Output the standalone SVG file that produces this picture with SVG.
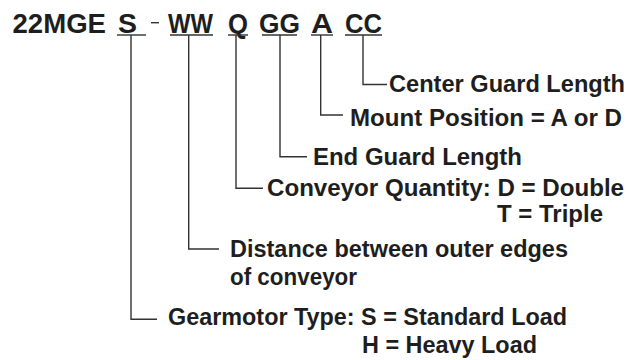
<svg xmlns="http://www.w3.org/2000/svg" width="634" height="360" viewBox="0 0 634 360">
<style>
.t{font-family:"Liberation Sans",Arial,sans-serif;font-weight:bold;font-size:23.5px;fill:#1e1e1e}
.h{font-family:"Liberation Sans",Arial,sans-serif;font-weight:bold;font-size:27.5px;fill:#1e1e1e}
.ln{fill:none;stroke:#333;stroke-width:1.4}
</style>
<rect width="634" height="360" fill="#fff"/>
<g id="title">
<text class="h" x="12.5" y="33.3" textLength="93.5" lengthAdjust="spacingAndGlyphs">22MGE</text>
<text class="h" x="118" y="33.3" textLength="19" lengthAdjust="spacingAndGlyphs">S</text>
<line class="ln" x1="151" y1="22.7" x2="159" y2="22.7" stroke-width="1.6"/>
<text class="h" x="168" y="33.3" textLength="45" lengthAdjust="spacingAndGlyphs">WW</text>
<text class="h" x="228" y="33.3" textLength="20" lengthAdjust="spacingAndGlyphs">Q</text>
<text class="h" x="259" y="33.3" textLength="41" lengthAdjust="spacingAndGlyphs">GG</text>
<text class="h" x="311" y="33.3" textLength="22" lengthAdjust="spacingAndGlyphs">A</text>
<text class="h" x="345" y="33.3" textLength="37" lengthAdjust="spacingAndGlyphs">CC</text>
</g>
<g id="connectors">
<line class="ln" x1="117" y1="35" x2="146" y2="35"/>
<line class="ln" x1="170" y1="35" x2="213" y2="35"/>
<line class="ln" x1="228" y1="35" x2="248" y2="35"/>
<line class="ln" x1="262" y1="35" x2="297" y2="35"/>
<line class="ln" x1="311" y1="35" x2="333" y2="35"/>
<line class="ln" x1="345" y1="35" x2="382" y2="35"/>
<polyline class="ln" points="363,35 363,84.5 387,84.5"/>
<polyline class="ln" points="320.7,35 320.7,115 343,115"/>
<polyline class="ln" points="280,35 280,156.7 307,156.7"/>
<polyline class="ln" points="236,35 236,188.3 263,188.3"/>
<polyline class="ln" points="188.7,35 188.7,249 219,249"/>
<polyline class="ln" points="131,35 131,319.3 157,319.3"/>
</g>
<g id="center-guard">
<text class="t" x="389" y="92" textLength="236" lengthAdjust="spacingAndGlyphs">Center Guard Length</text>
</g>
<g id="mount-position">
<text class="t" x="350" y="126" textLength="272" lengthAdjust="spacingAndGlyphs">Mount Position = A or D</text>
</g>
<g id="end-guard">
<text class="t" x="313" y="165" textLength="209" lengthAdjust="spacingAndGlyphs">End Guard Length</text>
</g>
<g id="conveyor-quantity">
<text class="t" x="267" y="196" textLength="357" lengthAdjust="spacingAndGlyphs">Conveyor Quantity: D = Double</text>
<text class="t" x="497" y="222" textLength="106" lengthAdjust="spacingAndGlyphs">T = Triple</text>
</g>
<g id="distance">
<text class="t" x="230" y="257" textLength="338" lengthAdjust="spacingAndGlyphs">Distance between outer edges</text>
<text class="t" x="230" y="285" textLength="127" lengthAdjust="spacingAndGlyphs">of conveyor</text>
</g>
<g id="gearmotor">
<text class="t" x="168" y="325" textLength="399" lengthAdjust="spacingAndGlyphs">Gearmotor Type: S = Standard Load</text>
<text class="t" x="362" y="353" textLength="175" lengthAdjust="spacingAndGlyphs">H = Heavy Load</text>
</g>
</svg>
